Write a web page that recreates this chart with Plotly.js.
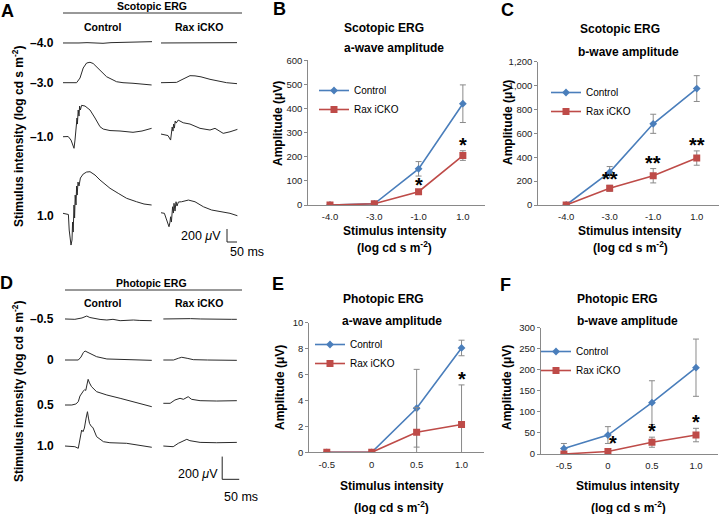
<!DOCTYPE html>
<html><head><meta charset="utf-8">
<script src="https://cdn.plot.ly/plotly-3.0.1.min.js"></script>
<style>html,body{margin:0;padding:0;background:#fff}#chart{width:720px;height:514px}</style>
</head><body><div id="chart"></div>
<script>
// ---------- summary data (B, C, E, F) ----------
const catScot = ['-4.0', '-3.0', '-1.0', '1.0'];
const catPhot = ['-0.5', '0', '0.5', '1.0'];
const seriesNames = ['Control', 'Rax iCKO'];

const scotA_ctrl = [0, 5, 150, 420];
const scotA_ctrlErr = [0, 3, 30, 78];
const scotA_rax = [0, 5, 55, 205];
const scotA_raxErr = [0, 3, 5, 20];
const scotA_sig = ['', '', '*', '*'];

const scotB_ctrl = [0, 275, 680, 975];
const scotB_ctrlErr = [0, 47, 80, 108];
const scotB_rax = [0, 140, 245, 393];
const scotB_raxErr = [0, 25, 60, 60];
const scotB_sig = ['', '**', '**', '**'];

const photA_ctrl = [0, 0, 3.4, 8.05];
const photA_ctrlErr = [0, 0, 3.0, 0.6];
const photA_rax = [0, 0, 1.55, 2.15];
const photA_raxErr = [0, 0, 1.9, 3.05];
const photA_sig = ['', '', '', '*'];

const photB_ctrl = [13, 45, 122, 205];
const photB_ctrlErr = [12, 20, 52, 68];
const photB_rax = [0, 6, 28, 45];
const photB_raxErr = [0, 6, 12, 16];
const photB_sig = ['', '*', '*', '*'];

// ---------- ERG waveforms (time in ms, amplitude in µV) ----------
// Scotopic (panel A)
const scoRows = ['–4.0', '–3.0', '–1.0', '1.0'];
const tSc_ctrl_m4 = [0, 40, 80, 120, 160, 200, 240, 280, 320, 360, 400, 445];
const vSc_ctrl_m4 = [0, -5, 0, 5, 0, -5, 5, 10, 15, 20, 15, 20];
const tSc_rax_m4 = [0, 40, 80, 120, 160, 200, 240, 280, 320, 380];
const vSc_rax_m4 = [0, 0, 5, 0, 5, 10, 5, 5, 5, 5];
const tSc_ctrl_m3 = [0, 68, 85, 101, 118, 135, 151, 185, 218, 268, 300, 350, 400, 443];
const vSc_ctrl_m3 = [0, 0, 72, 226, 303, 314, 295, 195, 92, 15, 0, -9, -20, -35];
const tSc_rax_m3 = [0, 40, 78, 100, 125, 145, 170, 200, 245, 290, 328, 380];
const vSc_rax_m3 = [0, 0, 5, 40, 85, 108, 105, 90, 52, 25, 0, -15];
const tSc_ctrl_m1 = [0, 26, 40, 55, 60, 65, 70, 72, 76, 80, 83, 87, 93, 110, 135, 160, 185, 201, 235, 285, 350, 395, 443];
const vSc_ctrl_m1 = [0, 3, -51, -178, -51, 180, 288, 195, 411, 318, 472, 411, 483, 472, 411, 288, 154, 118, 95, 88, 68, 88, 129];
const tSc_rax_m1 = [0, 20, 35, 48, 52, 56, 60, 63, 67, 71, 76, 86, 111, 145, 195, 245, 270, 311, 345, 382];
const vSc_rax_m1 = [41, 26, 18, -51, 56, 149, 87, 195, 133, 241, 210, 256, 215, 195, 129, 103, 129, 52, 76, 113];
const tSc_ctrl_p1 = [0, 18, 27, 31, 35, 40, 45, 48, 51, 55, 58, 61, 65, 68, 71, 75, 80, 87, 101, 118, 135, 160, 185, 210, 235, 276, 318, 368, 405, 443];
const vSc_ctrl_p1 = [0, -11, -18, -257, -411, -488, -411, -134, -288, 128, -72, 281, 128, 420, 281, 481, 420, 543, 604, 635, 640, 589, 512, 451, 385, 308, 231, 178, 143, 128];
const tSc_rax_p1 = [0, 17, 25, 40, 45, 48, 52, 58, 62, 65, 70, 75, 80, 87, 103, 137, 170, 212, 253, 295, 345, 382];
const vSc_rax_p1 = [9, 0, -73, -206, -134, -53, -134, 101, 4, 154, 35, 178, 112, 174, 178, 204, 178, 101, 51, 24, 0, -37];

// Photopic (panel D)
const phoRows = ['–0.5', '0', '0.5', '1.0'];
const tPh_ctrl_m05 = [0, 29, 50, 64, 73, 83, 103, 123, 141, 162, 182, 201, 220, 255];
const vPh_ctrl_m05 = [0, -3, 9, 26, 13, 6, -4, -9, -3, -15, -9, -9, -13, -15];
const tPh_rax_m05 = [0, 30, 55, 80, 110, 140, 170, 200, 216];
const vPh_rax_m05 = [0, 3, 6, 3, 0, -3, 0, -3, -3];
const tPh_ctrl_0 = [0, 39, 47, 54, 59, 65, 73, 93, 123, 162, 201, 255];
const vPh_ctrl_0 = [0, 0, 26, 66, 79, 70, 53, 29, 9, 4, 0, -3];
const tPh_rax_0 = [0, 30, 44, 54, 70, 88, 130, 175, 216];
const vPh_rax_0 = [0, 0, 15, 24, 15, 3, 0, 0, -3];
const tPh_ctrl_05 = [0, 20, 32, 39, 44, 49, 54, 58, 61, 65, 68, 72, 78, 93, 123, 162, 201, 255];
const vPh_ctrl_05 = [0, 0, 9, 29, 79, 108, 123, 136, 128, 185, 226, 194, 161, 117, 88, 59, 29, -15];
const tPh_rax_05 = [0, 20, 34, 49, 59, 67, 73, 83, 108, 157, 216];
const vPh_rax_05 = [15, 15, 44, 59, 50, 62, 73, 50, 38, 35, 38];
const tPh_ctrl_1 = [0, 29, 39, 44, 49, 53, 57, 62, 66, 69, 72, 78, 82, 85, 93, 113, 132, 181, 220, 255];
const vPh_ctrl_1 = [0, -6, -20, 53, 141, 126, 158, 246, 302, 246, 199, 170, 163, 141, 82, 38, 29, 24, 9, -11];
const tPh_rax_1 = [0, 29, 44, 54, 69, 78, 108, 157, 216];
const vPh_rax_1 = [0, -6, 24, 38, 59, 47, 32, 29, 32];

// Scale bars
const scaleBarUV = 200;
const scaleBarMS = 50;

// ---------- layout helpers ----------
const W = 720, H = 514;
const fx = px => px / W;
const fy = py => 1 - py / H;
const FONT = 'Liberation Sans, Arial, sans-serif';
const BLUE = '#4A7EBB', RED = '#BE4B48', AXC = '#898989', TRC = '#2a2a2a';

const traces = [];
const annotations = [];
const shapes = [];

function ann(text, px, py, o = {}) {
  annotations.push(Object.assign({
    text, xref: 'paper', yref: 'paper', x: fx(px), y: fy(py),
    xanchor: 'center', yanchor: 'middle', showarrow: false,
    font: {family: FONT, size: 12, color: '#000'}
  }, o));
}
const bold = (t) => '<b>' + t + '</b>';

// ---------- summary panels ----------
const panels = [
  {ax: '', cats: catScot, c: scotA_ctrl, ce: scotA_ctrlErr, r: scotA_rax, re: scotA_raxErr, sig: scotA_sig, leg: 'legend'},
  {ax: '2', cats: catScot, c: scotB_ctrl, ce: scotB_ctrlErr, r: scotB_rax, re: scotB_raxErr, sig: scotB_sig, leg: 'legend2'},
  {ax: '3', cats: catPhot, c: photA_ctrl, ce: photA_ctrlErr, r: photA_rax, re: photA_raxErr, sig: photA_sig, leg: 'legend3'},
  {ax: '4', cats: catPhot, c: photB_ctrl, ce: photB_ctrlErr, r: photB_rax, re: photB_raxErr, sig: photB_sig, leg: 'legend4'}
];
panels.forEach((p, k) => {
  const xa = 'x' + p.ax, ya = 'y' + p.ax;
  traces.push({
    type: 'scatter', mode: 'lines+markers', name: seriesNames[0], x: p.cats, y: p.c,
    xaxis: xa, yaxis: ya, legend: p.leg,
    line: {color: BLUE, width: 1.6}, marker: {symbol: 'diamond', size: 6, color: BLUE},
    error_y: {type: 'data', array: p.ce, visible: true, color: '#8a8a8a', thickness: 1, width: 3}
  });
  traces.push({
    type: 'scatter', mode: 'lines+markers', name: seriesNames[1], x: p.cats, y: p.r,
    xaxis: xa, yaxis: ya, legend: p.leg,
    line: {color: RED, width: 1.6}, marker: {symbol: 'square', size: 7, color: RED},
    error_y: {type: 'data', array: p.re, visible: true, color: '#8a8a8a', thickness: 1, width: 3}
  });
  p.sig.forEach((s, i) => {
    if (!s) return;
    annotations.push({
      text: '<b>' + s + '</b>', xref: xa, yref: ya, x: i, y: p.r[i] + p.re[i],
      xanchor: 'center', yanchor: 'middle', yshift: 6, xshift: (k === 3 && i === 1) ? 5 : 0,
      showarrow: false, font: {family: FONT, size: 20, color: '#000'}
    });
  });
});

// ---------- ERG trace panels ----------
const colOffA = [0, 490];
const rowBaseA = [3261, 2650, 1819, 641];
const scoT = [[tSc_ctrl_m4, tSc_rax_m4], [tSc_ctrl_m3, tSc_rax_m3], [tSc_ctrl_m1, tSc_rax_m1], [tSc_ctrl_p1, tSc_rax_p1]];
const scoV = [[vSc_ctrl_m4, vSc_rax_m4], [vSc_ctrl_m3, vSc_rax_m3], [vSc_ctrl_m1, vSc_rax_m1], [vSc_ctrl_p1, vSc_rax_p1]];
const colOffD = [0, 289];
const rowBaseD = [1461, 1100, 704, 343];
const phoT = [[tPh_ctrl_m05, tPh_rax_m05], [tPh_ctrl_0, tPh_rax_0], [tPh_ctrl_05, tPh_rax_05], [tPh_ctrl_1, tPh_rax_1]];
const phoV = [[vPh_ctrl_m05, vPh_rax_m05], [vPh_ctrl_0, vPh_rax_0], [vPh_ctrl_05, vPh_rax_05], [vPh_ctrl_1, vPh_rax_1]];

function addWaves(T, V, colOff, rowBase, xa, ya) {
  for (let r = 0; r < 4; r++) for (let c = 0; c < 2; c++) {
    traces.push({
      type: 'scatter', mode: 'lines', x: T[r][c].map(t => t + colOff[c]), y: V[r][c].map(v => v + rowBase[r]),
      xaxis: xa, yaxis: ya, showlegend: false, hoverinfo: 'skip',
      line: {color: TRC, width: 1}
    });
  }
}
addWaves(scoT, scoV, colOffA, rowBaseA, 'x5', 'y5');
addWaves(phoT, phoV, colOffD, rowBaseD, 'x6', 'y6');

// scale bars
function scaleBar(xr, yr, x0, y0) {
  shapes.push({type: 'line', xref: xr, yref: yr, x0: x0, x1: x0, y0: y0, y1: y0 + scaleBarUV, line: {color: '#222', width: 1}});
  shapes.push({type: 'line', xref: xr, yref: yr, x0: x0, x1: x0 + scaleBarMS, y0: y0, y1: y0, line: {color: '#222', width: 1}});
}
scaleBar('x5', 'y5', 820, 200);
scaleBar('x6', 'y6', 462, 50);

// header lines
shapes.push({type: 'line', xref: 'paper', yref: 'paper', x0: fx(63), x1: fx(242), y0: fy(13), y1: fy(13), line: {color: '#333', width: 1}});
shapes.push({type: 'line', xref: 'paper', yref: 'paper', x0: fx(65), x1: fx(242), y0: fy(290), y1: fy(290), line: {color: '#333', width: 1}});

// ---------- texts ----------
const LF = {family: FONT, size: 18, color: '#000'};
ann(bold('A'), 7, 11, {font: LF});
ann(bold('B'), 279, 9, {font: LF});
ann(bold('C'), 507, 9.5, {font: LF});
ann(bold('D'), 6, 283, {font: LF});
ann(bold('E'), 278, 284, {font: LF});
ann(bold('F'), 506, 285, {font: LF});

const HF = {family: FONT, size: 10.5, color: '#000'};
ann(bold('Scotopic ERG'), 151.5, 6.5, {font: HF});
ann(bold('Control'), 102, 27, {font: HF});
ann(bold('Rax iCKO'), 198.5, 27, {font: HF});
ann(bold('Photopic ERG'), 151, 283, {font: HF});
ann(bold('Control'), 102, 302.5, {font: HF});
ann(bold('Rax iCKO'), 198.5, 302.5, {font: HF});

const RF = {family: FONT, size: 12, color: '#000'};
const rowPyA = [43.3, 83.3, 136.7, 216];
scoRows.forEach((t, i) => ann(bold(t), 56, rowPyA[i], {font: RF, xanchor: 'right'}));
const rowPyD = [319, 360, 405, 446];
phoRows.forEach((t, i) => ann(bold(t), 56, rowPyD[i], {font: RF, xanchor: 'right'}));

const TF = {family: FONT, size: 12, color: '#000'};
const yTitle = bold('Stimulus intensity (log cd s m<sup>-2</sup>)');
ann(yTitle, 18, 137, {font: TF, textangle: -90});
ann(yTitle, 18, 392, {font: TF, textangle: -90});

const SF = {family: FONT, size: 12.5, color: '#000'};
ann('200 <i>μ</i>V', 223, 236, {font: SF, xanchor: 'right'});
ann('50 ms', 228, 252, {font: SF, xanchor: 'left'});
ann('200 <i>μ</i>V', 220, 474, {font: SF, xanchor: 'right'});
ann('50 ms', 222, 497, {font: SF, xanchor: 'left'});

// chart titles & axis titles
[
  {t1: 'Scotopic ERG', t2: 'a-wave amplitude', c1: [384, 28.3], c2: [394, 48.3], sx: 394.7, sy: 231, ly: 246.5, ax: 278, ay: 124},
  {t1: 'Scotopic ERG', t2: 'b-wave amplitude', c1: [619.5, 29.3], c2: [628, 51.7], sx: 630, sy: 231, ly: 246.5, ax: 508, ay: 123},
  {t1: 'Photopic ERG', t2: 'a-wave amplitude', c1: [383, 299.3], c2: [392, 320.7], sx: 392, sy: 485.5, ly: 506.7, ax: 280, ay: 388},
  {t1: 'Photopic ERG', t2: 'b-wave amplitude', c1: [617.5, 299], c2: [627.5, 320.7], sx: 628, sy: 485.5, ly: 506.7, ax: 507, ay: 388}
].forEach(o => {
  ann(bold(o.t1), o.c1[0], o.c1[1], {font: TF});
  ann(bold(o.t2), o.c2[0], o.c2[1], {font: TF});
  ann(bold('Stimulus intensity'), o.sx, o.sy, {font: TF});
  ann(bold('(log cd s m<sup>-2</sup>)'), o.sx, o.ly, {font: TF});
  ann(bold('Amplitude (μV)'), o.ax, o.ay, {font: TF, textangle: -90});
});

// ---------- axes ----------
const tickFont = {family: FONT, size: 9.5, color: '#222'};
function xAx(d0, d1, r0, anchor) {
  return {domain: [fx(d0), fx(d1)], range: [r0, 3.5], type: 'category', anchor,
    showline: true, linecolor: AXC, linewidth: 1, ticks: '', showgrid: false, zeroline: false,
    tickfont: tickFont, ticklabelstandoff: 3, fixedrange: true};
}
function yAx(pBot, pTop, max, dtick, anchor, fmt) {
  return {domain: [fy(pBot), fy(pTop)], range: [0, max], dtick, anchor,
    showline: true, linecolor: AXC, linewidth: 1, ticks: 'outside', ticklen: 3, tickcolor: AXC,
    showgrid: false, zeroline: false, tickfont: tickFont, tickformat: fmt || '', fixedrange: true};
}
const hidden = (d0, d1, r, anchor, isY) => ({
  domain: isY ? [fy(d1), fy(d0)] : [fx(d0), fx(d1)], range: r, anchor,
  visible: false, showgrid: false, zeroline: false, fixedrange: true
});

function legendAt(px, py) {
  return {x: fx(px), y: fy(py), xanchor: 'left', yanchor: 'top', bgcolor: 'rgba(0,0,0,0)',
    font: {family: FONT, size: 10, color: '#000'}, borderwidth: 0, tracegroupgap: 0};
}

const layout = {
  width: W, height: H, margin: {l: 0, r: 0, t: 0, b: 0},
  paper_bgcolor: '#fff', plot_bgcolor: 'rgba(0,0,0,0)',
  font: {family: FONT},
  xaxis: xAx(308.3, 485, -0.49, 'y'),
  yaxis: yAx(205, 60.3, 600, 100, 'x'),
  xaxis2: xAx(538.3, 718.5, -0.64, 'y2'),
  yaxis2: yAx(205, 61.7, 1200, 200, 'x2', ',d'),
  xaxis3: xAx(309.3, 484, -0.39, 'y3'),
  yaxis3: yAx(452.3, 322.7, 10, 2, 'x3'),
  xaxis4: xAx(541, 718, -0.52, 'y4'),
  yaxis4: yAx(454, 327.7, 300, 50, 'x4'),
  xaxis5: hidden(63, 245, [0, 910], 'y5', false),
  yaxis5: hidden(30, 255, [0, 3460.5], 'x5', true),
  xaxis6: hidden(65, 245, [0, 529], 'y6', false),
  yaxis6: hidden(305, 485, [0, 1584], 'x6', true),
  showlegend: true,
  legend: legendAt(314, 76),
  legend2: legendAt(546, 78),
  legend3: legendAt(310, 330),
  legend4: legendAt(536, 337),
  annotations, shapes
};

Plotly.newPlot('chart', traces, layout, {displayModeBar: false, staticPlot: true});
</script></body></html>
